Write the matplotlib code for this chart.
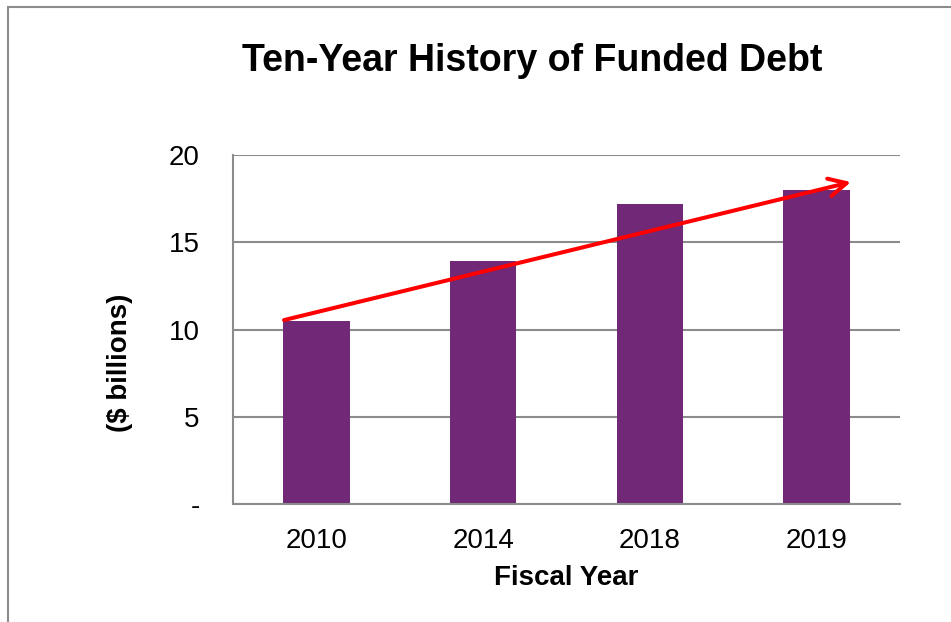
import matplotlib.pyplot as plt
from matplotlib.patches import Rectangle

years = ['2010', '2014', '2018', '2019']
debt = [10.5, 13.9, 17.2, 18.0]
yticks = [0, 5, 10, 15, 20]
ytick_labels = ['-', '5', '10', '15', '20']

plt.rcParams['font.family'] = ['Liberation Sans', 'DejaVu Sans']

fig = plt.figure(figsize=(9.51, 6.22), dpi=100)
ax = fig.add_axes([233 / 951, 1 - 504 / 622, 667 / 951, 349 / 622])

# outer chart border
fig.patches.append(Rectangle((8 / 951, -0.05), 1.1, 1 - 7 / 622 + 0.05,
                             transform=fig.transFigure, fill=False,
                             edgecolor='#8c8c8c', linewidth=1.5))

x = range(len(years))
ax.bar(x, debt, width=0.4, color='#702877', zorder=2)

# trend arrow from first to last bar
ax.annotate('', xy=(3.206, 18.45), xytext=(-0.194, 10.54),
            arrowprops=dict(arrowstyle='->', color='#ff0000', lw=2.9,
                            mutation_scale=32, shrinkA=0, shrinkB=0),
            zorder=3)

ax.set_xlim(-0.5, 3.5)
ax.set_ylim(0, 20)
ax.set_yticks(yticks)
ax.set_yticklabels(ytick_labels)
ax.set_xticks(list(x))
ax.set_xticklabels(years)
ax.tick_params(axis='both', length=0, labelsize=20, colors='black')
ax.tick_params(axis='y', pad=24)
ax.tick_params(axis='x', pad=17)

ax.grid(axis='y', color='#8c8c8c', linewidth=1.5, zorder=1)
for s in ['top', 'right']:
    ax.spines[s].set_visible(False)
for s in ['left', 'bottom']:
    ax.spines[s].set_color('#8c8c8c')
    ax.spines[s].set_linewidth(1.5)

fig.text(566 / 951, 1 - 578 / 622, 'Fiscal Year', ha='center', va='center',
         fontsize=20, fontweight='bold')
fig.text(120 / 951, 1 - 363 / 622, '($ billions)', ha='center', va='center',
         rotation=90, fontsize=20, fontweight='bold')
fig.text(532 / 951, 1 - 61 / 622, 'Ten-Year History of Funded Debt',
         ha='center', va='center', fontsize=27, fontweight='bold')

fig.savefig('out.png', dpi=100)
